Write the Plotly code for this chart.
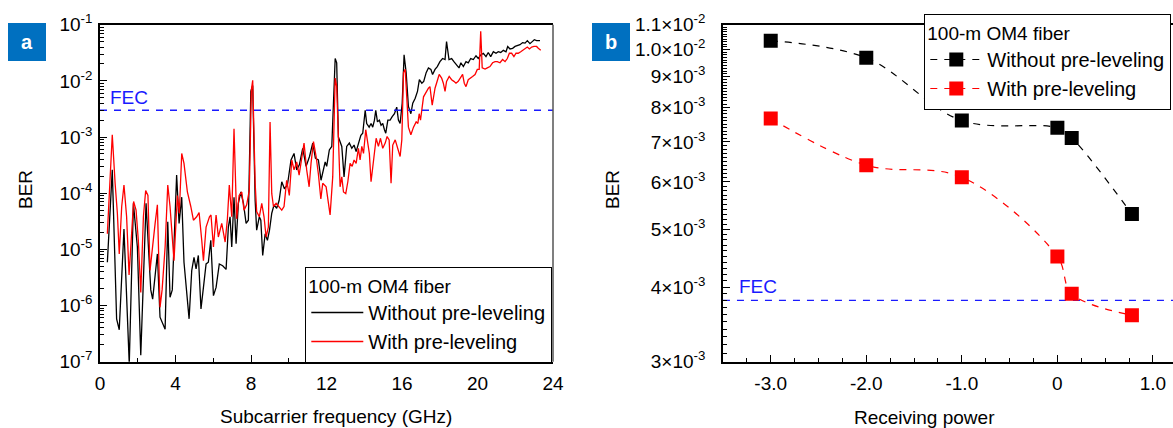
import math
import plotly.graph_objects as go

# ---------------- data ----------------
# (a) BER per subcarrier, 100-m OM4 fiber
freq_without_ghz = [0.39, 0.65, 0.88, 1.02, 1.27, 1.55, 1.77, 1.98, 2.16, 2.44,
                    2.69, 2.79, 3.04, 3.18, 3.45, 3.59, 3.71, 3.83, 4.06, 4.19,
                    4.33, 4.45, 4.72, 4.86, 4.98, 5.09, 5.21, 5.35, 5.48, 5.62,
                    5.74, 5.87, 6.01, 6.15, 6.32, 6.50, 6.68, 6.80, 6.89, 6.98,
                    7.10, 7.21, 7.33, 7.46, 7.60, 7.74, 7.86, 7.99, 8.09, 8.22,
                    8.30, 8.44, 8.52, 8.62, 8.75, 8.87, 8.98, 9.10, 9.22, 9.36,
                    9.49, 9.63, 9.77, 9.93, 10.12, 10.28, 10.42, 10.56, 10.74, 10.92,
                    11.10, 11.27, 11.41, 11.57, 11.71, 11.93, 12.01, 12.15, 12.28, 12.46,
                    12.54, 12.63, 12.81, 12.93, 13.07, 13.21, 13.34, 13.46, 13.57, 13.69,
                    13.82, 13.92, 14.05, 14.13, 14.26, 14.36, 14.45, 14.54, 14.61, 14.70,
                    14.80, 14.89, 14.98, 15.07, 15.14, 15.25, 15.37, 15.48, 15.60, 15.72,
                    15.81, 15.90, 16.01, 16.11, 16.22, 16.34, 16.47, 16.57, 16.70, 16.82,
                    16.92, 17.05, 17.15, 17.28, 17.40, 17.53, 17.62, 17.75, 17.87, 18.01,
                    18.15, 18.28, 18.36, 18.49, 18.63, 18.75, 18.89, 19.02, 19.12, 19.25,
                    19.39, 19.51, 19.64, 19.78, 19.92, 20.04, 20.17, 20.31, 20.45, 20.57,
                    20.70, 20.84, 20.98, 21.10, 21.23, 21.37, 21.51, 21.60, 21.72, 21.86,
                    21.99, 22.11, 22.25, 22.39, 22.52, 22.64, 22.78, 22.90, 23.01, 23.13,
                    23.31]
ber_without = [5.9e-6, 2.6e-4, 5.8e-7, 3.7e-7, 2.3e-5, 9.1e-8, 6.6e-5, 1.1e-5, 1.3e-7, 6.6e-5,
               1.9e-6, 1.3e-6, 8.3e-6, 6.2e-7, 3.8e-7, 3.1e-5, 1.4e-6, 1.9e-6, 2.1e-4, 2.9e-5,
               8.5e-5, 5.9e-6, 5.8e-7, 4.2e-6, 7.2e-6, 4.5e-6, 7.8e-6, 8.7e-7, 2.1e-6, 5.5e-6,
               5.9e-6, 1.45e-5, 1.5e-6, 2.1e-6, 5.5e-6, 5.1e-6, 4.4e-6, 2.5e-5, 3.8e-5, 1.1e-5,
               8.5e-5, 1.26e-5, 6.6e-5, 1.05e-4, 6.6e-5, 2.9e-5, 3.3e-5, 6.5e-3, 8.3e-3, 7.4e-5,
               2.2e-5, 3.8e-5, 3.3e-5, 7.8e-6, 1.9e-5, 1.45e-5, 2.2e-5, 4.4e-5, 6.2e-5, 5.4e-5,
               7.4e-5, 1.6e-4, 1.2e-4, 1.4e-4, 3.9e-4, 5.1e-4, 2.6e-4, 3.2e-4, 6.3e-4, 3.0e-4,
               4.5e-4, 7.8e-4, 4.2e-4, 3.9e-4, 1.7e-4, 3.6e-4, 3.0e-4, 5.9e-4, 6.8e-4, 2.5e-2,
               2.1e-2, 1.0e-3, 6.8e-4, 1.95e-4, 6.8e-4, 7.8e-4, 6.3e-4, 7.2e-4, 5.5e-4, 7.8e-4,
               1.07e-3, 1.17e-3, 3.0e-3, 1.74e-3, 1.5e-3, 1.74e-3, 1.5e-3, 2.0e-3, 3.0e-3, 1.86e-3,
               2.0e-3, 1.62e-3, 1.74e-3, 1.35e-3, 1.17e-3, 2.0e-3, 2.0e-3, 2.3e-3, 2.6e-3, 3.4e-3,
               2.0e-3, 1.74e-3, 4.0e-3, 2.9e-2, 1.4e-2, 3.5e-3, 2.6e-3, 4.0e-3, 4.9e-3, 6.5e-3,
               1.05e-2, 9.1e-3, 9.8e-3, 1.4e-2, 1.7e-2, 1.6e-2, 1.3e-2, 1.6e-2, 1.8e-2, 2.2e-2,
               2.5e-2, 2.4e-2, 5.0e-2, 2.4e-2, 2.5e-2, 2.2e-2, 1.95e-2, 1.7e-2, 2.1e-2, 1.8e-2,
               2.2e-2, 2.1e-2, 2.5e-2, 2.4e-2, 2.8e-2, 2.5e-2, 2.9e-2, 3.1e-2, 2.7e-2, 3.2e-2,
               2.7e-2, 3.3e-2, 3.1e-2, 3.3e-2, 3.2e-2, 3.5e-2, 3.3e-2, 4.1e-2, 3.7e-2, 3.8e-2,
               4.1e-2, 4.2e-2, 4.4e-2, 4.8e-2, 4.7e-2, 5.2e-2, 4.6e-2, 5.0e-2, 5.4e-2, 5.2e-2,
               5.2e-2]

freq_with_ghz = [0.39, 0.53, 0.65, 0.80, 0.92, 1.02, 1.15, 1.27, 1.41, 1.54,
                 1.68, 1.78, 1.91, 2.03, 2.16, 2.30, 2.42, 2.54, 2.65, 2.77,
                 2.92, 3.04, 3.18, 3.29, 3.45, 3.59, 3.71, 3.92, 4.10, 4.20,
                 4.33, 4.45, 4.63, 4.81, 4.95, 5.12, 5.25, 5.39, 5.48, 5.62,
                 5.80, 5.88, 6.01, 6.15, 6.27, 6.45, 6.63, 6.75, 6.85, 6.98,
                 7.10, 7.24, 7.37, 7.51, 7.63, 7.77, 7.91, 8.02, 8.09, 8.22,
                 8.30, 8.44, 8.57, 8.69, 8.80, 8.92, 9.01, 9.10, 9.19, 9.33,
                 9.49, 9.63, 9.75, 9.89, 10.03, 10.16, 10.28, 10.42, 10.55, 10.69,
                 10.81, 10.95, 11.08, 11.18, 11.31, 11.45, 11.57, 11.70, 11.80, 11.98,
                 12.10, 12.19, 12.33, 12.46, 12.54, 12.63, 12.72, 12.81, 12.90, 13.02,
                 13.13, 13.25, 13.36, 13.46, 13.57, 13.69, 13.78, 13.87, 13.96, 14.08,
                 14.17, 14.27, 14.36, 14.49, 14.63, 14.75, 14.86, 14.98, 15.11, 15.21,
                 15.32, 15.42, 15.51, 15.64, 15.76, 15.90, 15.99, 16.08, 16.17, 16.25,
                 16.34, 16.47, 16.61, 16.75, 16.84, 16.91, 16.98, 17.14, 17.28, 17.40,
                 17.48, 17.60, 17.75, 17.87, 17.97, 18.10, 18.19, 18.28, 18.36, 18.50,
                 18.63, 18.75, 18.86, 18.98, 19.11, 19.21, 19.30, 19.39, 19.51, 19.60,
                 19.74, 19.87, 19.99, 20.09, 20.17, 20.25, 20.40, 20.52, 20.66, 20.80,
                 20.93, 21.05, 21.19, 21.33, 21.46, 21.58, 21.69, 21.81, 21.93, 22.04,
                 22.16, 22.29, 22.39, 22.52, 22.64, 22.75, 22.87, 22.99, 23.13, 23.22,
                 23.35]
ber_with = [1.9e-5, 2.2e-4, 1.1e-3, 1.5e-4, 4.4e-5, 8.3e-6, 5.8e-5, 1.4e-4, 3.8e-5, 3.5e-6,
            1.66e-5, 7.1e-5, 5.0e-5, 1.45e-5, 1.7e-6, 3.8e-5, 1.12e-4, 9.1e-5, 4.2e-6, 1.1e-5,
            2.9e-5, 6.2e-5, 9.3e-7, 1.9e-6, 1.1e-5, 1.4e-4, 5.8e-5, 6.3e-6, 9.1e-5, 4.4e-5,
            5.1e-4, 3.4e-4, 1.05e-4, 5.8e-5, 3.3e-5, 3.8e-5, 4.5e-5, 1.45e-5, 6.3e-6, 2.5e-5,
            3.8e-5, 4.1e-5, 1.1e-5, 4.1e-5, 1.66e-5, 2.9e-5, 1.35e-5, 3.5e-5, 1.4e-4, 3.8e-5,
            1.4e-3, 3.5e-5, 9.1e-5, 1.05e-4, 5.0e-5, 6.2e-5, 1.12e-4, 6.9e-3, 1.02e-2, 1.5e-4,
            4.7e-5, 3.8e-5, 6.6e-5, 3.8e-5, 1.66e-5, 2.5e-5, 1.86e-3, 9.8e-5, 5.8e-5, 6.6e-5,
            5.8e-5, 5.0e-5, 5.8e-5, 1.7e-4, 9.1e-5, 3.9e-4, 2.6e-4, 3.6e-4, 2.1e-4, 3.9e-4,
            7.8e-4, 2.6e-4, 1.3e-4, 3.4e-4, 8.3e-4, 4.5e-4, 2.2e-4, 7.9e-5, 1.5e-4, 1.3e-4,
            6.2e-5, 4.1e-5, 1.95e-4, 1.12e-2, 7.9e-3, 7.8e-4, 1.3e-4, 1.95e-4, 1.05e-4, 9.8e-5,
            1.6e-4, 3.4e-4, 3.0e-4, 3.9e-4, 3.4e-4, 6.3e-4, 3.9e-4, 6.8e-4, 5.1e-4, 1.35e-3,
            8.9e-4, 5.1e-4, 1.6e-4, 3.9e-4, 9.5e-4, 6.8e-4, 9.5e-4, 6.3e-4, 7.8e-4, 1.02e-3,
            8.9e-4, 1.5e-4, 7.2e-4, 8.9e-4, 6.3e-4, 4.5e-4, 8.9e-4, 1.4e-2, 1.6e-2, 4.0e-3,
            1.5e-3, 1.1e-3, 1.5e-3, 1.86e-3, 1.74e-3, 2.6e-3, 2.0e-3, 5.2e-3, 6.5e-3, 7.4e-3,
            7.9e-3, 3.7e-3, 7.4e-3, 9.8e-3, 1.3e-2, 1.12e-2, 9.1e-3, 6.5e-3, 9.8e-3, 1.2e-2,
            1.05e-2, 9.8e-3, 9.1e-3, 9.8e-3, 1.12e-2, 1.3e-2, 9.1e-3, 7.9e-3, 1.05e-2, 1.12e-2,
            1.2e-2, 1.3e-2, 1.6e-2, 1.6e-2, 7.6e-2, 1.7e-2, 1.62e-2, 1.7e-2, 1.8e-2, 2.1e-2,
            2.2e-2, 2.2e-2, 2.1e-2, 2.4e-2, 2.2e-2, 2.5e-2, 3.1e-2, 3.1e-2, 2.7e-2, 3.1e-2,
            3.1e-2, 3.3e-2, 3.5e-2, 3.8e-2, 4.0e-2, 3.7e-2, 4.0e-2, 4.1e-2, 4.1e-2, 3.8e-2,
            3.5e-2]

# (b) BER versus receiving power
power = [-3.0, -2.0, -1.0, 0.0, 0.15, 0.78]
ber_power_without = [1.034e-2, 9.68e-3, 7.60e-3, 7.39e-3, 7.11e-3, 5.30e-3]
ber_power_with = [7.66e-3, 6.40e-3, 6.11e-3, 4.50e-3, 3.90e-3, 3.59e-3]

# FEC thresholds
fec_a = 3.0e-3
fec_b = 3.8e-3

# axis ticks
freq_range = [0, 24]
ber_a_ticks = [1e-7, 1e-6, 1e-5, 1e-4, 1e-3, 1e-2, 1e-1]
ber_a_labels = ["10<sup>-7</sup>", "10<sup>-6</sup>", "10<sup>-5</sup>", "10<sup>-4</sup>",
                "10<sup>-3</sup>", "10<sup>-2</sup>", "10<sup>-1</sup>"]
power_range = [-3.5, 1.21]
power_ticks = [-3.0, -2.0, -1.0, 0.0, 1.0]
power_labels = ["-3.0", "-2.0", "-1.0", "0", "1.0"]
power_half_ticks = [-2.5, -1.5, -0.5, 0.5]
ber_b_range = [3e-3, 1.1e-2]
ber_b_ticks = [3e-3, 4e-3, 5e-3, 6e-3, 7e-3, 8e-3, 9e-3, 1.0e-2, 1.1e-2]
ber_b_labels = ["3×10<sup>-3</sup>", "4×10<sup>-3</sup>", "5×10<sup>-3</sup>", "6×10<sup>-3</sup>",
                "7×10<sup>-3</sup>", "8×10<sup>-3</sup>", "9×10<sup>-3</sup>",
                "1.0×10<sup>-2</sup>", "1.1×10<sup>-2</sup>"]

assert len(freq_without_ghz) == len(ber_without)
assert len(freq_with_ghz) == len(ber_with)

# ---------------- styling ----------------
W, H = 1173, 428
FONT = "Liberation Sans, Arial, sans-serif"
FS = 19
LFS = 20
BLUE_TXT = "#1a1aff"

# minor tick positions for the log axes
minor_a = [k * 10.0 ** e for e in range(-7, -1) for k in range(2, 10)]
minor_b = [round(3e-3 + i * 1e-4, 6) for i in range(81)]
minor_b = [v for v in minor_b if all(abs(v - t) > 1e-9 for t in ber_b_ticks)]

fig = go.Figure()

# panel (a)
fig.add_trace(go.Scatter(x=freq_without_ghz, y=ber_without, mode="lines",
                         name="Without pre-leveling", line=dict(color="black", width=1.3),
                         xaxis="x", yaxis="y", legend="legend"))
fig.add_trace(go.Scatter(x=freq_with_ghz, y=ber_with, mode="lines",
                         name="With pre-leveling", line=dict(color="#ff0000", width=1.3),
                         xaxis="x", yaxis="y", legend="legend"))
fig.add_trace(go.Scatter(x=freq_range, y=[fec_a, fec_a], mode="lines", showlegend=False,
                         line=dict(color="#1a1aff", width=1.3, dash="7px,7px"),
                         xaxis="x", yaxis="y", hoverinfo="skip"))

# panel (b)
fig.add_trace(go.Scatter(x=power_range, y=[fec_b, fec_b], mode="lines", showlegend=False,
                         line=dict(color="#1a1aff", width=1.3, dash="7px,7px"),
                         xaxis="x2", yaxis="y2", hoverinfo="skip"))
fig.add_trace(go.Scatter(x=power, y=ber_power_without, mode="lines+markers",
                         name="Without pre-leveling",
                         line=dict(color="black", width=1.2, dash="7px,7px", shape="spline", smoothing=1.0),
                         marker=dict(symbol="square", size=14, color="black"),
                         xaxis="x2", yaxis="y2", legend="legend2"))
fig.add_trace(go.Scatter(x=power, y=ber_power_with, mode="lines+markers",
                         name="With pre-leveling",
                         line=dict(color="#ff0000", width=1.2, dash="7px,7px", shape="spline", smoothing=1.0),
                         marker=dict(symbol="square", size=14, color="#ff0000"),
                         xaxis="x2", yaxis="y2", legend="legend2"))

axis_common = dict(showline=True, linecolor="black", linewidth=1.5, showgrid=False,
                   zeroline=False, ticks="inside", ticklen=7, tickwidth=1.3, tickcolor="black",
                   tickfont=dict(family=FONT, size=FS, color="black"))

dom_y = [(H - 361.7) / H, (H - 24.7) / H]
dom_x_b = [722.95 / W, 1.0]

legend_common = dict(xanchor="left", yanchor="top", bgcolor="white", bordercolor="black",
                     borderwidth=1.3, itemwidth=52,
                     font=dict(family=FONT, size=LFS, color="black"),
                     title=dict(text="100-m OM4 fiber", font=dict(family=FONT, size=FS, color="black")))

fig.update_layout(
    width=W, height=H,
    margin=dict(l=0, r=0, t=0, b=0, autoexpand=False),
    paper_bgcolor="white", plot_bgcolor="white",
    font=dict(family=FONT, size=FS, color="black"),
    xaxis=dict(domain=[100 / W, 553 / W], range=freq_range, tick0=0, dtick=4,
               minor=dict(dtick=2, tick0=0, ticks="inside", ticklen=4, tickcolor="black"),
               mirror=True, anchor="y", ticklabelstandoff=4, **axis_common),
    yaxis=dict(domain=dom_y, type="log", range=[-7, -1], tickmode="array",
               tickvals=ber_a_ticks, ticktext=ber_a_labels,
               minor=dict(tickmode="array", tickvals=minor_a, ticks="inside", ticklen=4, tickcolor="black"),
               anchor="x", ticklabelstandoff=2, **axis_common),
    xaxis2=dict(domain=dom_x_b, range=power_range, tickmode="array",
                tickvals=power_ticks, ticktext=power_labels,
                minor=dict(dtick=0.25, tick0=-3.5, ticks="inside", ticklen=4, tickcolor="black"),
                mirror=True, anchor="y2", ticklabelstandoff=4, **axis_common),
    # unlabeled half-unit ticks of the power axis
    xaxis3=dict(domain=dom_x_b, range=power_range, overlaying="x2", anchor="y2",
                tickmode="array", tickvals=power_half_ticks, showticklabels=False,
                ticks="inside", ticklen=7, tickwidth=1.3, tickcolor="black",
                showline=False, showgrid=False, zeroline=False),
    yaxis2=dict(domain=dom_y, type="log",
                range=[math.log10(ber_b_range[0]), math.log10(ber_b_range[1])],
                tickmode="array", tickvals=ber_b_ticks, ticktext=ber_b_labels,
                minor=dict(tickmode="array", tickvals=minor_b, ticks="inside", ticklen=4, tickcolor="black"),
                anchor="x2", ticklabelstandoff=12, **axis_common),
    legend=dict(x=305 / W, y=(H - 267) / H, **legend_common),
    legend2=dict(x=924 / W, y=(H - 14) / H, **legend_common),
    showlegend=True,
)

# right frame line of panel (a)
fig.add_shape(type="line", xref="x domain", yref="y domain", x0=1, x1=1, y0=0, y1=1,
              line=dict(color="#555555", width=1.5))

# panel tags
for tag, x0 in (("a", 8), ("b", 592)):
    fig.add_shape(type="rect", xref="paper", yref="paper",
                  x0=x0 / W, x1=(x0 + 38) / W, y0=(H - 61) / H, y1=(H - 23) / H,
                  fillcolor="#0070c0", line=dict(width=0), layer="above")
    fig.add_annotation(text=f"<b>{tag}</b>", xref="paper", yref="paper",
                       x=(x0 + 19) / W, y=(H - 42) / H, xanchor="center", yanchor="middle",
                       showarrow=False, font=dict(family=FONT, size=20, color="white"))

# axis titles
title_kw = dict(xref="paper", yref="paper", xanchor="center", yanchor="middle",
                showarrow=False, font=dict(family=FONT, size=FS, color="black"))
fig.add_annotation(text="Subcarrier frequency (GHz)", x=336 / W, y=(H - 416) / H, **title_kw)
fig.add_annotation(text="Receiving power", x=924 / W, y=(H - 417) / H, **title_kw)
fig.add_annotation(text="BER", x=25 / W, y=(H - 190) / H, textangle=-90, **title_kw)
fig.add_annotation(text="BER", x=612 / W, y=(H - 190) / H, textangle=-90, **title_kw)

# FEC labels
fig.add_annotation(text="FEC", xref="x", yref="y", x=0.42, y=math.log10(fec_a),
                   xanchor="left", yanchor="bottom", showarrow=False,
                   font=dict(family=FONT, size=FS, color=BLUE_TXT))
fig.add_annotation(text="FEC", xref="x2", yref="y2", x=-3.356, y=math.log10(fec_b),
                   xanchor="left", yanchor="bottom", yshift=1, showarrow=False,
                   font=dict(family=FONT, size=FS, color=BLUE_TXT))

fig.write_html("out.html")
